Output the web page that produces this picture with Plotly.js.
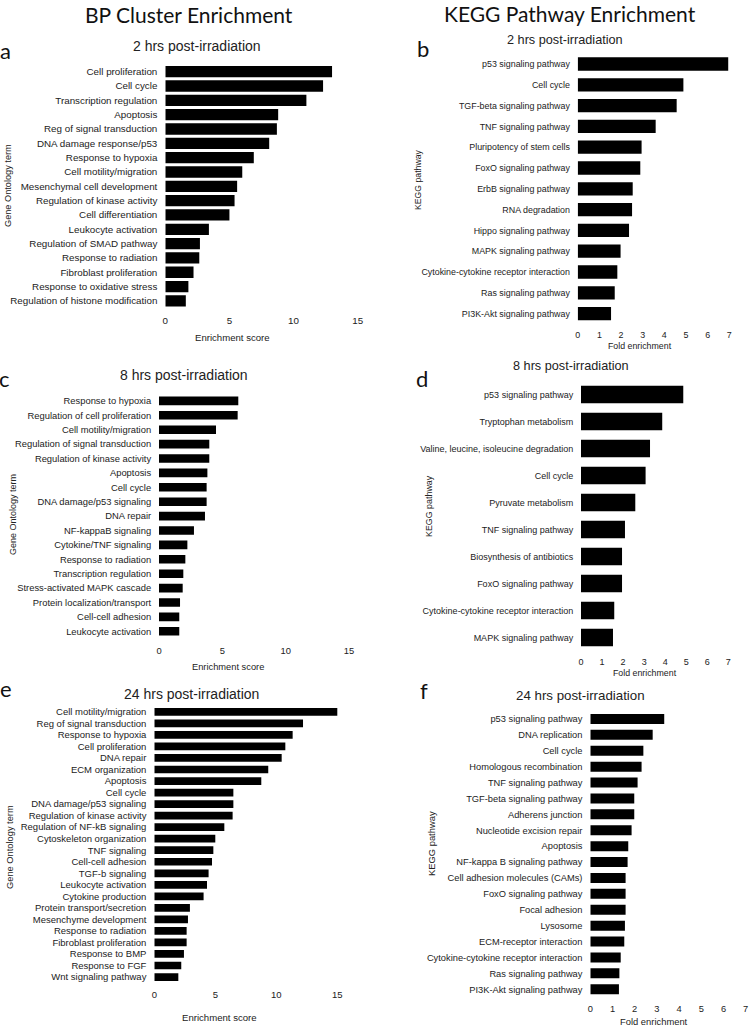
<!DOCTYPE html>
<html>
<head>
<meta charset="utf-8">
<script src="https://cdn.plot.ly/plotly-3.0.1.min.js"></script>
<style>html,body{margin:0;padding:0;background:#fff;}#chart{width:749px;height:1026px;}</style>
</head>
<body>
<div id="chart"></div>
<script>
// ---------- DATA ----------
const bpTerms2h = ["Cell proliferation","Cell cycle","Transcription regulation","Apoptosis","Reg of signal transduction","DNA damage response/p53","Response to hypoxia","Cell motility/migration","Mesenchymal cell development","Regulation of kinase activity","Cell differentiation","Leukocyte activation","Regulation of SMAD pathway","Response to radiation","Fibroblast proliferation","Response to oxidative stress","Regulation of histone modification"];
const bpScores2h = [13.0, 12.3, 11.0, 8.8, 8.7, 8.1, 6.9, 6.0, 5.6, 5.4, 5.0, 3.4, 2.7, 2.65, 2.2, 1.8, 1.6];

const keggTerms2h = ["p53 signaling pathway","Cell cycle","TGF-beta signaling pathway","TNF signaling pathway","Pluripotency of stem cells","FoxO signaling pathway","ErbB signaling pathway","RNA degradation","Hippo signaling pathway","MAPK signaling pathway","Cytokine-cytokine receptor interaction","Ras signaling pathway","PI3K-Akt signaling pathway"];
const keggFold2h = [6.95, 4.88, 4.57, 3.6, 2.95, 2.89, 2.54, 2.51, 2.37, 1.98, 1.83, 1.71, 1.54];

const bpTerms8h = ["Response to hypoxia","Regulation of cell proliferation","Cell motility/migration","Regulation of signal transduction","Regulation of kinase activity","Apoptosis","Cell cycle","DNA damage/p53 signaling","DNA repair","NF-kappaB signaling","Cytokine/TNF signaling","Response to radiation","Transcription regulation","Stress-activated MAPK cascade","Protein localization/transport","Cell-cell adhesion","Leukocyte activation"];
const bpScores8h = [6.26, 6.21, 4.5, 3.97, 3.97, 3.82, 3.76, 3.76, 3.63, 2.76, 2.24, 2.08, 1.92, 1.87, 1.66, 1.6, 1.6];

const keggTerms8h = ["p53 signaling pathway","Tryptophan metabolism","Valine, leucine, isoleucine degradation","Cell cycle","Pyruvate metabolism","TNF signaling pathway","Biosynthesis of antibiotics","FoxO signaling pathway","Cytokine-cytokine receptor interaction","MAPK signaling pathway"];
const keggFold8h = [4.86, 3.86, 3.28, 3.07, 2.58, 2.09, 1.95, 1.95, 1.58, 1.52];

const bpTerms24h = ["Cell motility/migration","Reg of signal transduction","Response to hypoxia","Cell proliferation","DNA repair","ECM organization","Apoptosis","Cell cycle","DNA damage/p53 signaling","Regulation of kinase activity","Regulation of NF-kB signaling","Cytoskeleton organization","TNF signaling","Cell-cell adhesion","TGF-b signaling","Leukocyte activation","Cytokine production","Protein transport/secretion","Mesenchyme development","Response to radiation","Fibroblast proliferation","Response to BMP","Response to FGF","Wnt signaling pathway"];
const bpScores24h = [15.27, 12.19, 11.34, 10.74, 10.44, 9.34, 8.77, 6.48, 6.48, 6.42, 5.74, 5.0, 4.84, 4.73, 4.45, 4.32, 4.04, 2.92, 2.76, 2.65, 2.65, 2.43, 2.21, 1.97];

const keggTerms24h = ["p53 signaling pathway","DNA replication","Cell cycle","Homologous recombination","TNF signaling pathway","TGF-beta signaling pathway","Adherens junction","Nucleotide excision repair","Apoptosis","NF-kappa B signaling pathway","Cell adhesion molecules (CAMs)","FoxO signaling pathway","Focal adhesion","Lysosome","ECM-receptor interaction","Cytokine-cytokine receptor interaction","Ras signaling pathway","PI3K-Akt signaling pathway"];
const keggFold24h = [3.33, 2.81, 2.39, 2.31, 2.13, 1.98, 1.98, 1.86, 1.71, 1.68, 1.59, 1.59, 1.59, 1.56, 1.53, 1.37, 1.31, 1.29];

const panelTitles = ["2 hrs post-irradiation","2 hrs post-irradiation","8 hrs post-irradiation","8 hrs post-irradiation","24 hrs post-irradiation","24 hrs post-irradiation"];
const panelLetters = ["a","b","c","d","e","f"];
const xTitles = ["Enrichment score","Fold enrichment","Enrichment score","Fold enrichment","Enrichment score","Fold enrichment"];
const yTitles = ["Gene Ontology term","KEGG pathway","Gene Ontology term","KEGG pathway","Gene Ontology term","KEGG pathway"];
const headers = ["BP Cluster Enrichment","KEGG Pathway Enrichment"];

// ---------- LAYOUT (pixel geometry) ----------
const W = 749, H = 1026;
const TXT = '#222';
const FAM = 'Liberation Sans, Arial, sans-serif';
const panels = [
  {terms: bpTerms2h,   vals: bpScores2h,  x0:165.3, x1:357.7, top:64.5,  bot:308.1, max:15, dt:5, bw:0.79, fs:9.8, tl:3,
   title:{x:197, y:46, fs:14}, letter:{x:5, y:50}, xt:{x:232, y:337, fs:9.6}, yt:{x:8, y:186, fs:9.2}},
  {terms: keggTerms2h, vals: keggFold2h,  x0:577.7, x1:729.3, top:53.6,  bot:324,   max:7,  dt:1, bw:0.64, fs:8.9, tl:2,
   title:{x:565, y:40, fs:12.7}, letter:{x:423, y:48}, xt:{x:640, y:345.5, fs:8.8}, yt:{x:418, y:180, fs:8.7}},
  {terms: bpTerms8h,   vals: bpScores8h,  x0:159,   x1:349,   top:393.7, bot:638.5, max:15, dt:5, bw:0.6, fs:9.4, tl:3,
   title:{x:184, y:375, fs:14}, letter:{x:4, y:378}, xt:{x:228, y:666.5, fs:9.3}, yt:{x:13, y:515, fs:9.0}},
  {terms: keggTerms8h, vals: keggFold8h,  x0:581,   x1:728.3, top:381,   bot:651,   max:7,  dt:1, bw:0.65, fs:9.0, tl:2,
   title:{x:571, y:366.5, fs:12.7}, letter:{x:422, y:378}, xt:{x:645, y:673, fs:8.8}, yt:{x:429, y:506, fs:8.9}},
  {terms: bpTerms24h,  vals: bpScores24h, x0:154.3, x1:337.3, top:706.1, bot:982.8, max:15, dt:5, bw:0.67, fs:9.5, tl:3,
   title:{x:191, y:694, fs:14}, letter:{x:6, y:688}, xt:{x:219, y:1017, fs:9.6}, yt:{x:10, y:847, fs:9.3}},
  {terms: keggTerms24h,vals: keggFold24h, x0:590.3, x1:745.7, top:711,   bot:997.2, max:7,  dt:1, bw:0.63, fs:9.3, tl:3,
   title:{x:580, y:695, fs:13.3}, letter:{x:424, y:690}, xt:{x:654, y:1021.5, fs:9.4}, yt:{x:431, y:844, fs:9.4}}
];

const data = [];
const layout = {
  width: W, height: H,
  margin: {l:0, r:0, t:0, b:0},
  paper_bgcolor: '#fff', plot_bgcolor: '#fff',
  showlegend: false,
  font: {family: FAM, color: TXT},
  annotations: []
};
const ann = (text, x, y, size, extra) => Object.assign({
  text: text, x: x / W, y: 1 - y / H, xref: 'paper', yref: 'paper',
  xanchor: 'center', yanchor: 'middle', showarrow: false,
  font: {family: FAM, size: size, color: TXT}
}, extra || {});

panels.forEach((p, i) => {
  const n = i + 1;
  const xa = n === 1 ? 'xaxis' : 'xaxis' + n;
  const ya = n === 1 ? 'yaxis' : 'yaxis' + n;
  data.push({
    type: 'bar', orientation: 'h',
    x: p.vals, y: p.terms,
    xaxis: 'x' + (n === 1 ? '' : n), yaxis: 'y' + (n === 1 ? '' : n),
    marker: {color: '#000', line: {width: 0}},
    width: p.bw, hoverinfo: 'x+y'
  });
  layout[xa] = {
    domain: [p.x0 / W, p.x1 / W], anchor: 'y' + (n === 1 ? '' : n),
    range: [0, p.max], dtick: p.dt, tick0: 0,
    showgrid: false, zeroline: false, showline: false,
    ticks: 'outside', ticklen: p.tl, tickcolor: 'rgba(0,0,0,0)',
    tickfont: {family: FAM, size: p.fs, color: TXT}, fixedrange: true
  };
  layout[ya] = {
    domain: [1 - p.bot / H, 1 - p.top / H], anchor: 'x' + (n === 1 ? '' : n),
    type: 'category', autorange: 'reversed',
    showgrid: false, zeroline: false, showline: false,
    ticks: 'outside', ticklen: 5, tickcolor: 'rgba(0,0,0,0)',
    tickfont: {family: FAM, size: p.fs, color: TXT}, fixedrange: true
  };
  layout.annotations.push(ann(panelTitles[i], p.title.x, p.title.y, p.title.fs));
  layout.annotations.push(ann(panelLetters[i], p.letter.x, p.letter.y, 22, {font: {family: 'Lato, sans-serif', size: 22, color: '#111'}}));
  layout.annotations.push(ann(xTitles[i], p.xt.x, p.xt.y, p.xt.fs));
  layout.annotations.push(ann(yTitles[i], p.yt.x, p.yt.y, p.yt.fs, {textangle: -90}));
});
layout.annotations.push(ann(headers[0], 189, 15, 21, {font: {family: 'Lato, sans-serif', size: 21, color: '#111'}}));
layout.annotations.push(ann(headers[1], 570, 13, 21, {font: {family: 'Lato, sans-serif', size: 21, color: '#111'}}));

Plotly.newPlot('chart', data, layout, {staticPlot: true, displayModeBar: false});
</script>
</body>
</html>
